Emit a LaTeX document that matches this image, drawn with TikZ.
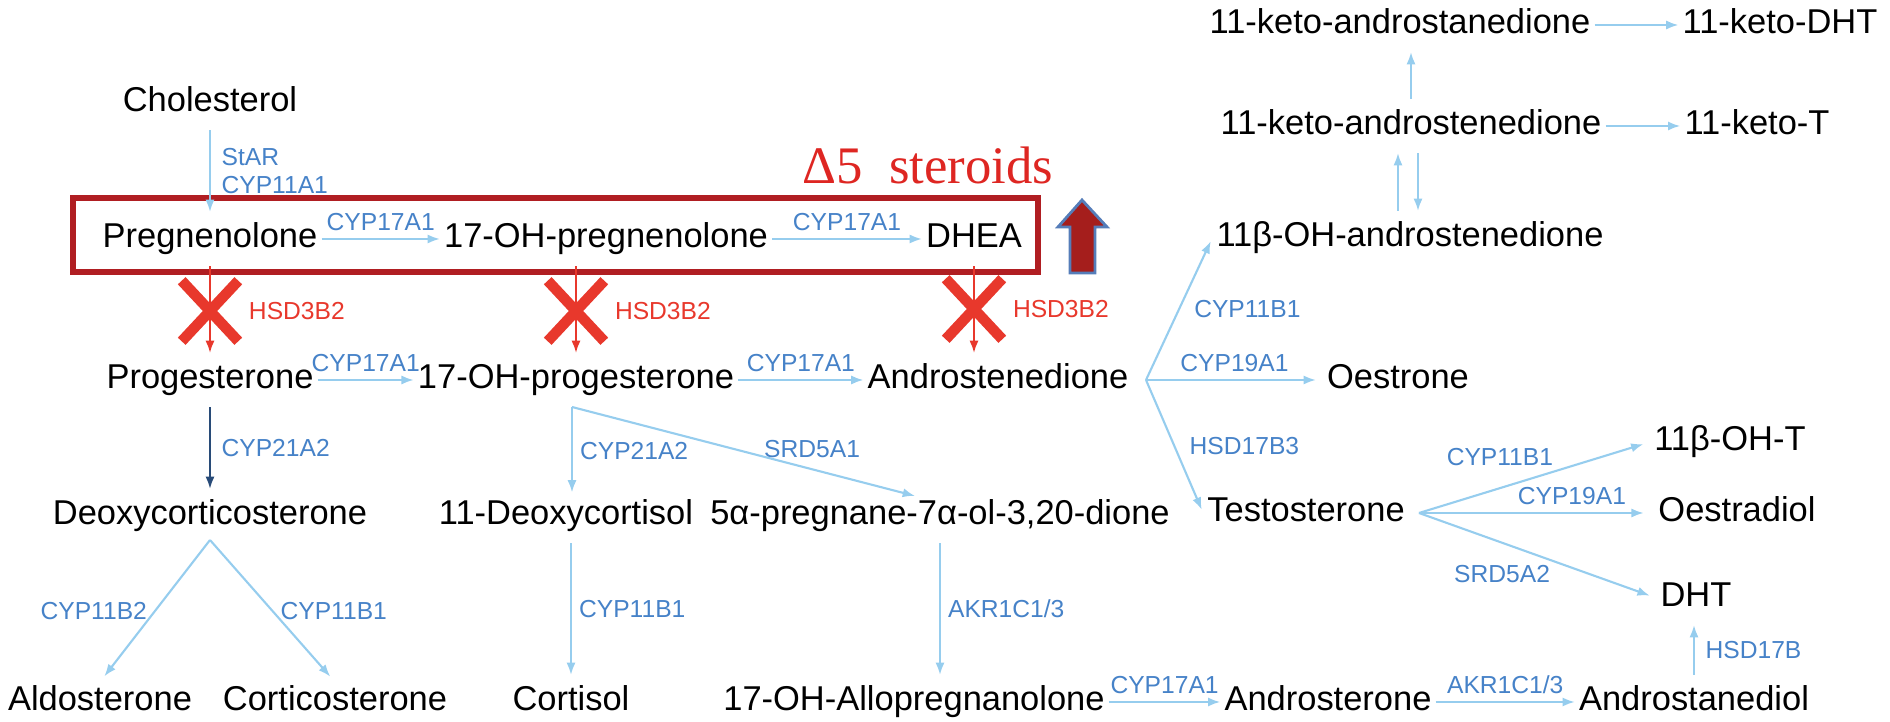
\documentclass[tikz,border=0pt]{standalone}
\usepackage{fontspec}
\setmainfont{Liberation Sans}
\newfontfamily\titlefont{Liberation Serif}
\usepackage{tikz}
\usetikzlibrary{arrows.meta}
\usetikzlibrary{shapes.misc}
\usetikzlibrary{positioning}
\usepackage{xcolor}
\definecolor{lineblue}{RGB}{150,205,238}
\definecolor{enzblue}{RGB}{70,130,200}
\definecolor{navyline}{RGB}{40,75,120}
\definecolor{boxred}{RGB}{176,30,34}
\definecolor{crossred}{RGB}{232,56,44}
\definecolor{titlered}{RGB}{222,38,34}
\definecolor{arrowred}{RGB}{165,30,28}
\definecolor{edgeblue}{RGB}{85,125,185}

\begin{document}
\begin{tikzpicture}[x=0.01cm, y=-0.01cm,
        chem/.style={font=\fontsize{9.8}{11}\selectfont, inner sep=1pt, text height=7pt, text depth=2pt},
        enz/.style={font=\fontsize{7}{8}\selectfont, text=enzblue, inner sep=1pt},
        hsd/.style={font=\fontsize{7}{8}\selectfont, text=crossred, inner sep=0pt},
        flow/.style={-{Latex[length=3.5pt,width=2.6pt]}, draw=lineblue, line width=0.6pt},
        vflow/.style={flow, shorten <=2pt, shorten >=2pt},
        blocked/.style={-{Latex[length=3.5pt,width=2.6pt]}, draw=crossred, line width=0.5pt, shorten <=2pt, shorten >=2pt},
        nope/.style={cross out, draw=crossred, line width=3pt, minimum width=0.46cm, minimum height=0.5cm, inner sep=0pt}]
                \useasboundingbox (0,0) rectangle (1890,722);

                \node[chem] (chol) at (210,103) {Cholesterol};
                \node[chem] (preg) at (210,239) {Pregnenolone};
                \node[chem] (ohpreg) at (606,239) {17-OH-pregnenolone};
                \node[chem] (dhea) at (974,239) {DHEA};
                \node[chem] (prog) at (210,380) {Progesterone};
                \node[chem] (ohprog) at (576,380) {17-OH-progesterone};
                \node[chem] (andro) at (998,380) {Androstenedione};
                \node[chem] (oestrone) at (1398,380) {Oestrone};
                \node[chem] (deoxy) at (210,516) {Deoxycorticosterone};
                \node[chem] (dcort) at (566,516) {11-Deoxycortisol};
                \node[chem] (preg5a) at (940,516) {5α-pregnane-7α-ol-3,20-dione};
                \node[chem] (testo) at (1306,513) {Testosterone};
                \node[chem] (ohT) at (1730,442) {11β-OH-T};
                \node[chem] (oestradiol) at (1737,513) {Oestradiol};
                \node[chem] (dht) at (1696,598) {DHT};
                \node[chem] (aldo) at (100,702) {Aldosterone};
                \node[chem] (cortico) at (335,702) {Corticosterone};
                \node[chem] (cortisol) at (571,702) {Cortisol};
                \node[chem] (allo) at (914,702) {17-OH-Allopregnanolone};
                \node[chem] (andros) at (1328,702) {Androsterone};
                \node[chem] (andiol) at (1694,702) {Androstanediol};
                \node[chem] (ohad) at (1410,238) {11β-OH-androstenedione};
                \node[chem] (kad) at (1411,126) {11-keto-androstenedione};
                \node[chem] (kT) at (1757,126) {11-keto-T};
                \node[chem] (kan) at (1400,25) {11-keto-androstanedione};
                \node[chem] (kdht) at (1780,25) {11-keto-DHT};

                % delta 5 box
                \draw[boxred, line width=1.6pt] (73,198) rectangle (1038,272);
                \node[font=\titlefont\fontsize{15}{17}\selectfont, text=titlered, inner sep=0pt] (d5) at (928,165) {Δ5\ \ steroids};
                \draw[fill=arrowred, draw=edgeblue, line width=0.8pt] (1070,273) -- (1070,227) -- (1058,227) -- (1082,200) -- (1107,227) -- (1095,227) -- (1095,273) -- cycle;

                \draw[vflow] (chol) -- (preg) node[enz, midway, right=2pt, align=left] (star) {StAR\\CYP11A1};
                \draw[flow] (preg) -- (ohpreg) node[enz, midway, above=1pt] (c17a) {CYP17A1};
                \draw[flow] (ohpreg) -- (dhea) node[enz, midway, above=1pt] (c17b) {CYP17A1};
                \draw[flow] (prog) -- (ohprog) node[enz, midway, above=1pt] (c17c) {CYP17A1};
                \draw[flow] (ohprog) -- (andro) node[enz, midway, above=1pt] (c17d) {CYP17A1};

                \draw[blocked] (preg) -- (prog);
                \draw[blocked] (ohpreg.south -| ohprog) -- (ohprog.north);
                \draw[blocked] (dhea.south) -- (dhea.south |- andro.north);
                \node[nope] (x1) at (210,311) {};
                \node[nope] (x2) at (576,311) {};
                \node[nope] (x3) at (974,309) {};
                \node[hsd, right=0.1cm of x1] (h1) {HSD3B2};
                \node[hsd, right=0.1cm of x2] (h2) {HSD3B2};
                \node[hsd, right=0.1cm of x3] (h3) {HSD3B2};

                \draw[vflow, draw=navyline] (prog) -- (deoxy) node[enz, midway, right=2pt] (c21a) {CYP21A2};
                \coordinate (fork17) at (572,407);
                \draw[flow, shorten >=1pt] (fork17) -- (fork17 |- dcort.north) node[enz, midway, right=1pt] (c21b) {CYP21A2};
                \draw[flow] (fork17) -- ([xshift=-0.25cm]preg5a.north) node[enz, pos=0.7, above=2pt] (c5a1) {SRD5A1};

                \coordinate (forkD) at (210,540);
                \draw[flow, shorten >=2pt] (forkD) -- (aldo.north) node[enz, midway, left=1pt] (c11b2) {CYP11B2};
                \draw[flow, shorten >=2pt] (forkD) -- (cortico.north) node[enz, midway, right=1pt] (c11b1a) {CYP11B1};
                \draw[vflow] (dcort.south -| cortisol) -- (cortisol.north) node[enz, midway, right=1pt] (c11b1b) {CYP11B1};
                \draw[vflow] (preg5a.south) -- (preg5a.south |- allo.north) node[enz, midway, right=1pt] (akr1) {AKR1C1/3};

                \coordinate (forkA) at (1146,380);
                \draw[flow, shorten >=1pt] (forkA) -- (ohad.west) node[enz, midway, right=3pt] (c11b1c) {CYP11B1};
                \draw[flow, shorten >=2pt] (forkA) -- (oestrone) node[enz, midway, above=1pt] (c19a) {CYP19A1};
                \draw[flow, shorten >=1pt] (forkA) -- (testo.west) node[enz, midway, right=3pt] (c17b3) {HSD17B3};

                \coordinate (forkT) at (1419,513);
                \draw[flow, shorten >=2pt] (forkT) -- (ohT.west) node[enz, pos=0.35, above=5pt] (c11b1d) {CYP11B1};
                \draw[flow, shorten >=3pt] (forkT) -- (oestradiol) node[enz, pos=0.65, above=1pt] (c19b) {CYP19A1};
                \draw[flow, shorten >=2pt] (forkT) -- (dht.west) node[enz, pos=0.35, below=5pt] (c5a2) {SRD5A2};
                \draw[vflow] (andiol.north) -- (andiol.north |- dht.south) node[enz, midway, right=2pt] (h17b) {HSD17B};

                \draw[flow] (allo) -- (andros) node[enz, midway, above=1pt] (c17e) {CYP17A1};
                \draw[flow] (andros) -- (andiol) node[enz, midway, above=1pt] (akr2) {AKR1C1/3};

                \draw[vflow] (kad.north) -- (kad.north |- kan.south);
                \draw[flow] (kan) -- (kdht);
                \draw[flow] (kad) -- (kT);
                \draw[vflow] ([xshift=-0.12cm]ohad.north) -- ([xshift=-0.12cm]ohad.north |- kad.south);
                \draw[vflow] ([xshift=0.08cm]ohad.north |- kad.south) -- ([xshift=0.08cm]ohad.north);
\end{tikzpicture}
\end{document}
